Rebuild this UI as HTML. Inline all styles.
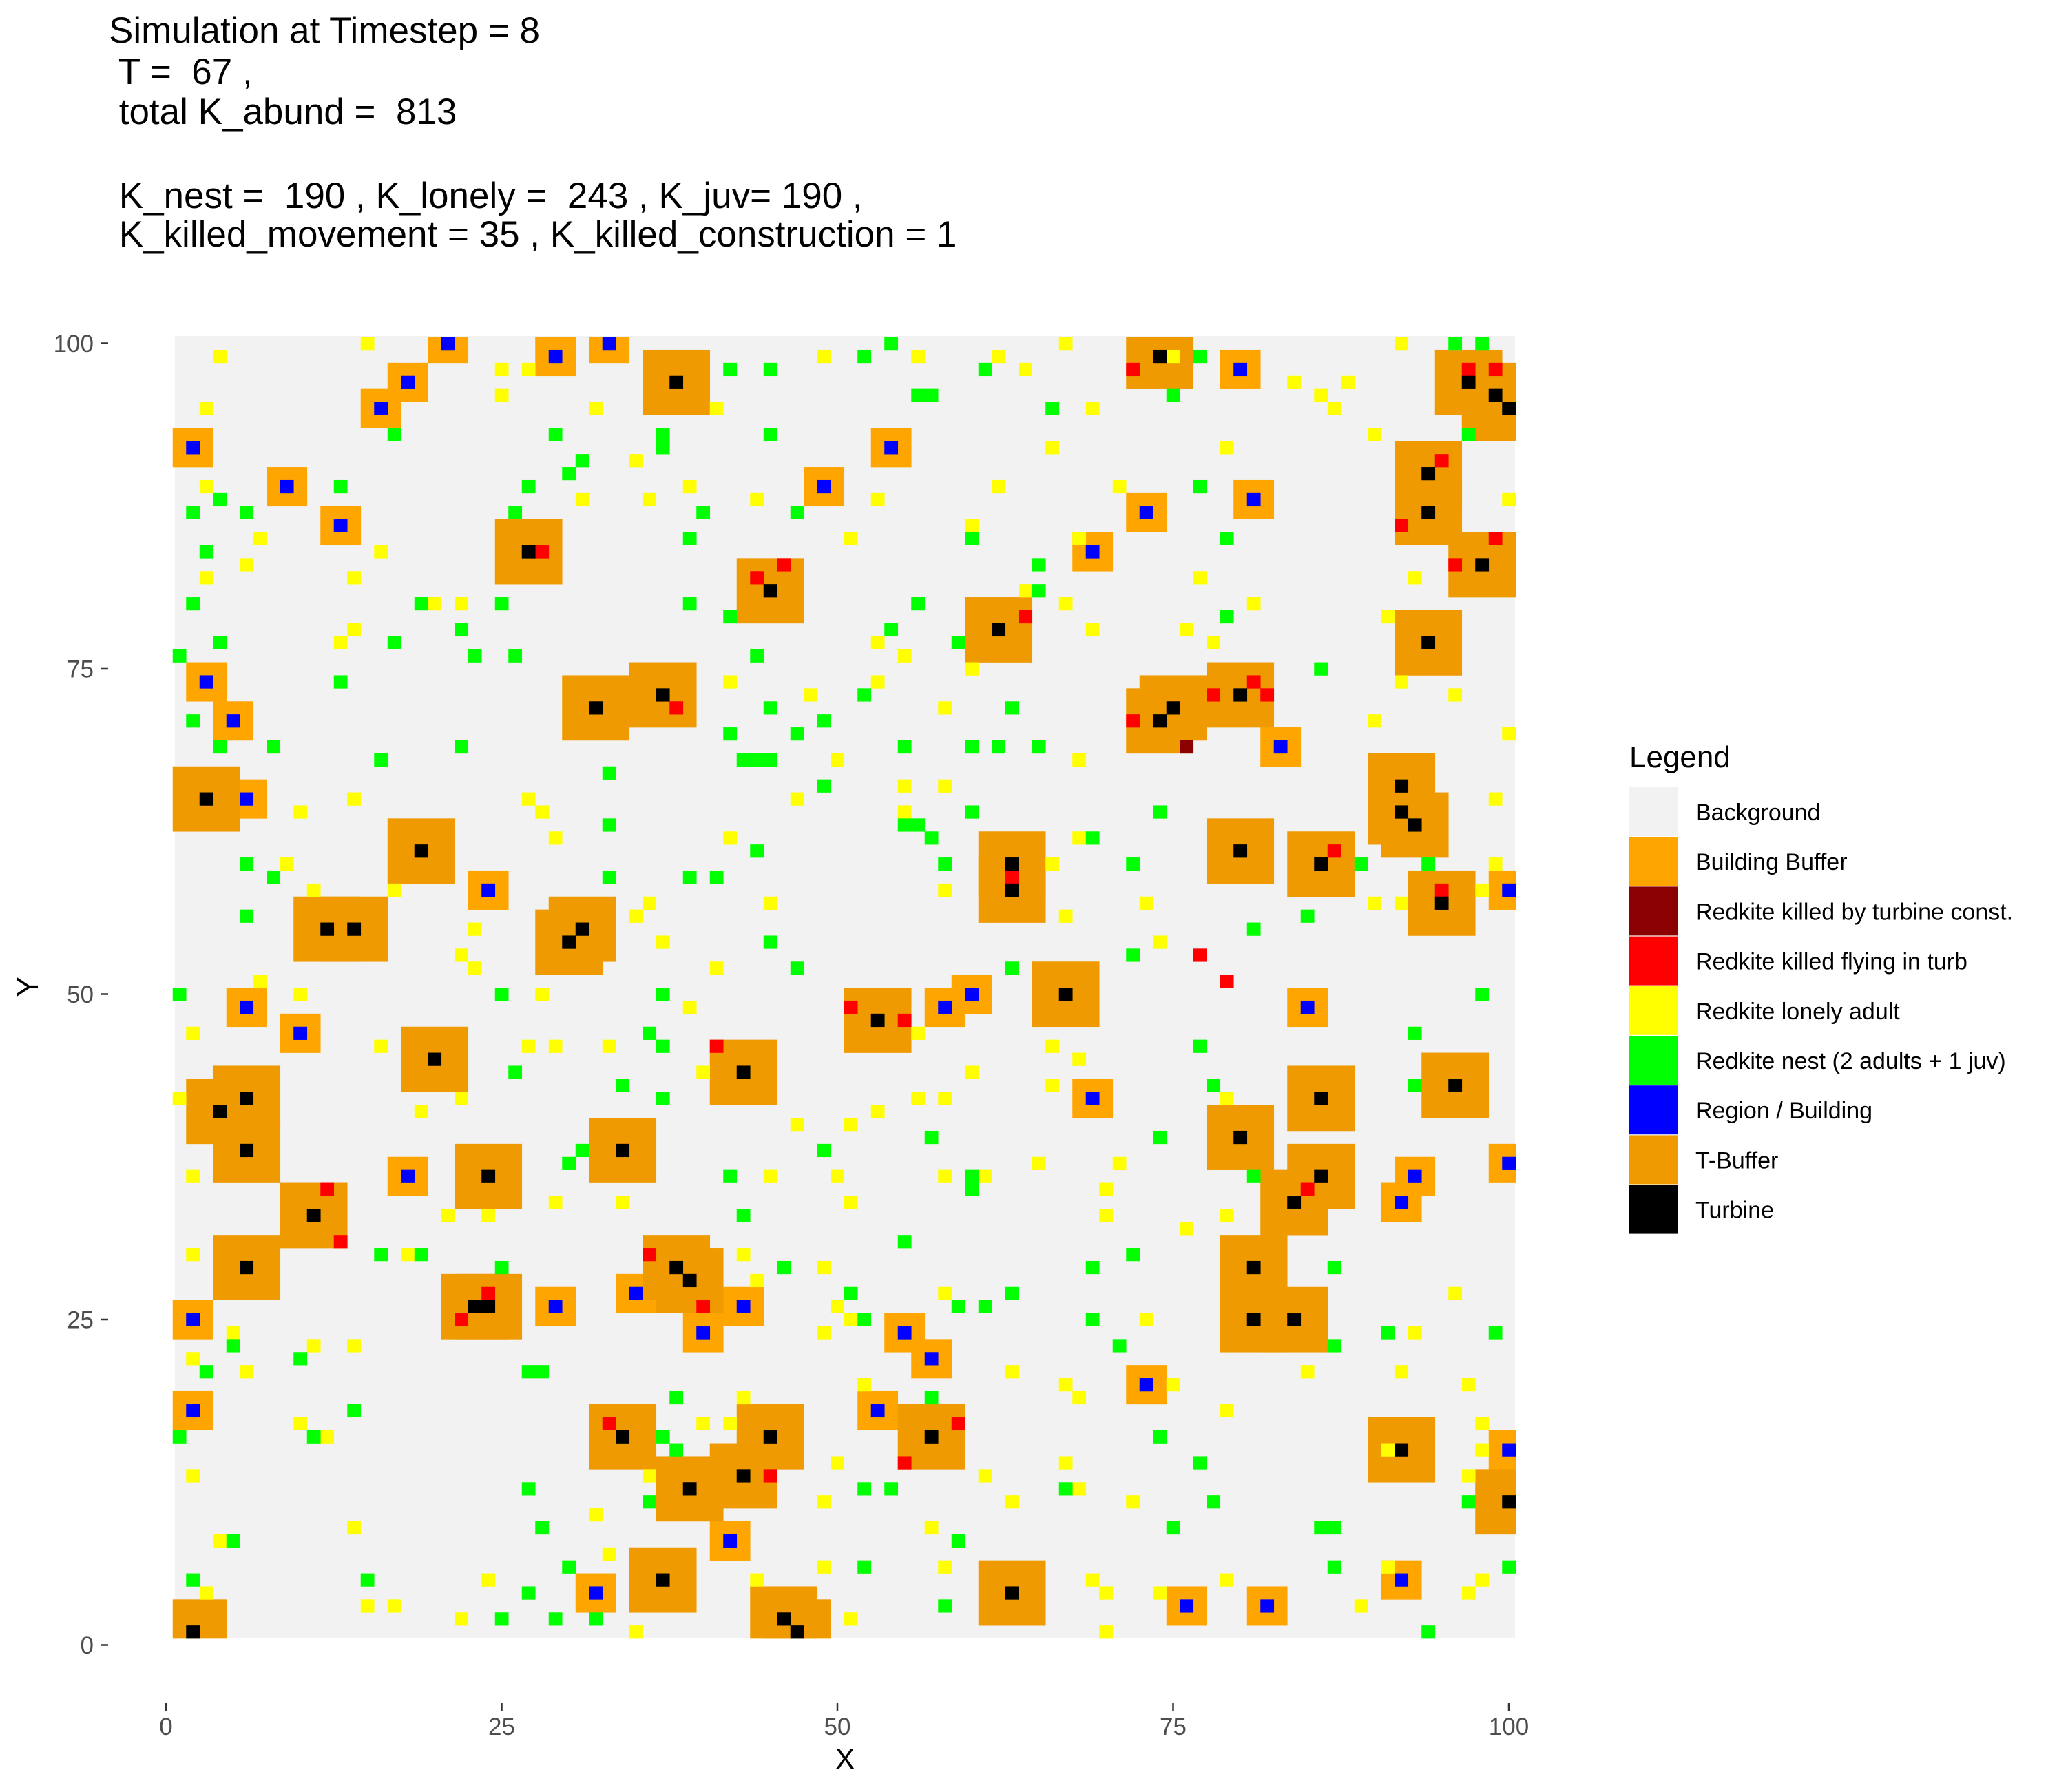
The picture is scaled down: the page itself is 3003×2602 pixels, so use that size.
<!DOCTYPE html>
<html><head><meta charset="utf-8">
<style>
html,body{margin:0;padding:0;background:#fff;}
svg{display:block;font-family:"Liberation Sans",Arial,sans-serif;}
#title text{white-space:pre;}
</style></head>
<body>
<svg id="chart" width="3003" height="2602" viewBox="0 0 3003 2602" xmlns="http://www.w3.org/2000/svg">
<rect width="3003" height="2602" fill="#ffffff"/>
<g id="title" font-size="53" fill="#000" xml:space="preserve">
<text x="158" y="62">Simulation at Timestep = 8</text>
<text x="158" y="122"> T =  67 ,</text>
<text x="158" y="180"> total K_abund =  813</text>
<text x="158" y="302"> K_nest =  190 , K_lonely =  243 , K_juv= 190 ,</text>
<text x="158" y="358"> K_killed_movement = 35 , K_killed_construction = 1</text>
</g>
<rect x="254" y="488" width="1946" height="1891" fill="#f2f2f2"/>
<g id="cells"></g>
<g id="axes"></g>
<text x="1227" y="2569" font-size="44" text-anchor="middle" fill="#000">X</text>
<text transform="translate(55,1433) rotate(-90)" font-size="44" text-anchor="middle" fill="#000">Y</text>
<g id="legend">
<text x="2366" y="1114" font-size="44" fill="#000">Legend</text>
</g>
</svg>
<script>
const turbineX=[38,74,97,99,100,94,94,98,27,45,62,94,32,37,74,75,80,3,92,92,93,19,63,63,80,86,12,14,31,30,95,67,53,20,43,6,4,86,96,80,6,34,24,86,84,11,6,38,39,81,23,24,81,84,34,45,57,92,39,43,100,37,63,2,46,47];
const turbineY=[97,99,97,96,95,90,87,83,84,81,78,77,72,73,71,72,73,65,66,64,63,61,60,58,61,60,55,55,55,54,57,50,48,45,44,42,41,42,43,39,38,38,36,36,34,33,29,29,28,29,26,26,25,25,16,16,16,15,12,13,11,5,4,1,2,1];
const buildingX=[21,29,33,18,16,2,54,80,9,49,13,81,73,69,3,5,83,6,24,100,6,10,60,58,85,69,18,93,92,100,2,29,35,43,40,55,57,73,2,53,100,42,92,32,76,82];
const buildingY=[100,99,100,97,95,92,92,98,89,89,86,88,87,84,74,71,69,65,58,58,49,47,50,49,49,42,36,36,34,37,25,26,27,26,24,24,22,20,18,18,15,8,5,4,3,3];
const nestX=[17,37,37,42,45,52,54,56,57,61,66,75,77,96,98,97,45,29,31,30,27,26,40,39,47,2,4,6,3,13,2,19,25,39,42,56,59,65,65,60,77,79,79,1,4,13,17,22,23,26,44,54,52,45,42,47,49,43,44,45,55,60,62,65,63,69,74,2,4,8,22,16,33,6,8,6,33,33,39,41,44,49,55,56,57,58,60,72,89,94,81,85,86,72,45,47,63,1,25,37,36,37,26,34,37,49,30,31,42,57,60,60,74,78,77,93,98,93,81,87,55,43,16,19,25,46,51,52,59,61,63,69,72,69,71,87,91,99,5,10,3,27,28,14,11,1,38,37,38,57,52,54,67,74,77,78,75,86,87,87,97,100,94,59,58,52,30,27,29,25,32,15,2,5,28,27,36];
const nestY=[93,93,92,98,98,99,100,96,96,98,95,96,99,100,100,93,93,93,91,90,89,87,87,85,87,87,88,87,84,89,80,80,80,80,79,80,77,81,83,85,89,85,79,76,77,74,77,78,76,76,76,78,73,72,70,70,71,68,68,68,69,69,69,69,72,62,64,71,69,69,69,68,67,60,59,56,63,59,59,59,61,66,63,63,62,60,64,60,60,60,55,56,75,53,54,52,52,50,50,50,47,46,44,43,42,38,37,38,36,39,36,35,39,43,46,47,50,43,36,29,31,33,30,30,29,29,27,25,26,26,27,29,30,25,23,23,24,24,23,22,21,21,21,18,16,16,19,16,15,19,12,12,12,16,14,11,9,9,9,6,11,6,1,8,3,6,6,4,2,2,2,5,5,8,9,12,11];
const lonelyX=[15,4,3,25,27,25,32,41,49,56,62,64,67,69,75,84,86,87,88,90,92,3,3,7,6,14,16,14,13,20,22,35,36,39,31,44,51,53,62,60,66,68,71,79,77,81,91,93,100,92,96,100,90,99,99,98,92,90,78,76,69,67,60,64,58,53,55,53,48,42,50,47,55,58,55,58,66,68,68,67,73,74,14,10,9,11,17,27,28,29,36,35,37,42,45,23,22,23,28,10,7,2,16,27,29,33,39,41,40,47,51,53,56,58,60,66,68,66,56,1,2,19,22,21,24,29,34,45,50,51,58,61,65,71,70,70,76,79,79,2,18,43,44,49,58,50,51,49,73,96,93,92,97,98,98,97,85,91,79,75,67,68,63,52,43,40,42,2,5,6,11,14,10,12,2,14,4,3,15,17,22,24,32,36,33,35,44,49,50,49,51,58,57,61,63,67,68,72,69,70,70,74,79,89,91,97,98];
const lonelyY=[100,99,95,98,98,96,95,95,99,99,99,98,100,95,99,97,96,95,97,93,100,89,82,85,83,82,84,78,77,80,80,91,88,89,88,88,85,88,89,86,92,85,89,92,82,80,79,82,88,74,73,70,71,65,60,58,57,57,77,78,78,80,75,81,72,74,76,77,73,74,68,65,66,66,64,58,60,62,68,56,57,54,65,64,60,58,58,65,64,62,57,56,54,62,57,55,53,52,50,50,51,47,46,46,46,46,49,52,44,40,40,41,42,42,44,43,45,46,47,42,36,41,42,33,33,34,34,36,36,34,36,36,37,37,35,33,32,33,42,30,30,30,28,29,27,26,25,24,25,27,24,21,20,17,15,13,21,15,18,20,20,19,21,20,19,17,17,22,24,21,23,23,17,16,13,9,8,4,3,3,2,5,10,13,7,1,5,11,14,6,2,6,9,13,11,14,12,11,5,1,4,4,5,3,6,4,5];
const killedFlyX=[72,97,99,95,92,99,96,28,44,46,64,38,72,78,81,82,87,63,95,77,79,51,55,41,12,85,13,36,24,22,40,33,59,45,55];
const killedFlyY=[98,98,98,91,86,85,83,84,82,83,79,72,71,73,74,73,61,59,58,53,51,49,48,46,35,35,31,30,27,25,26,17,17,13,14];
const killedConstX=[76];
const killedConstY=[69];
const legendLabels=["Background","Building Buffer","Redkite killed by turbine const.","Redkite killed flying in turb","Redkite lonely adult","Redkite nest (2 adults + 1 juv)","Region / Building","T-Buffer","Turbine"];
const legendColors=["#f2f2f2","#ffa500","#8b0000","#ff0000","#ffff00","#00ff00","#0000ff","#ee9a00","#000000"];
const xTicks=[0,25,50,75,100];
const yTicks=[0,25,50,75,100];

const NS="http://www.w3.org/2000/svg";
const X0=241, CW=19.5, Y0=2388.5, CH=18.9;
function sx(v){return X0+v*CW;}
function sy(v){return Y0-v*CH;}
const cells=document.getElementById('cells');
function cellRect(x0,x1,y0,y1,color,name){
  x0=Math.max(x0,1);x1=Math.min(x1,100);y0=Math.max(y0,1);y1=Math.min(y1,100);
  if(x1<x0||y1<y0)return;
  const r=document.createElementNS(NS,'rect');
  r.setAttribute('x',sx(x0-0.5));r.setAttribute('y',sy(y1+0.5));
  r.setAttribute('width',(x1-x0+1)*CW+0.3);r.setAttribute('height',(y1-y0+1)*CH+0.3);
  r.setAttribute('fill',color);
  
  
  cells.appendChild(r);
}
for(let i=0;i<buildingX.length;i++)cellRect(buildingX[i]-1,buildingX[i]+1,buildingY[i]-1,buildingY[i]+1,'#ffa500','building-buffer');
for(let i=0;i<turbineX.length;i++)cellRect(turbineX[i]-2,turbineX[i]+2,turbineY[i]-2,turbineY[i]+2,'#ee9a00','turbine-buffer');
for(let i=0;i<lonelyX.length;i++)cellRect(lonelyX[i],lonelyX[i],lonelyY[i],lonelyY[i],'#ffff00','lonely-adult-cell');
for(let i=0;i<nestX.length;i++)cellRect(nestX[i],nestX[i],nestY[i],nestY[i],'#00ff00','nest-cell');
for(let i=0;i<killedFlyX.length;i++)cellRect(killedFlyX[i],killedFlyX[i],killedFlyY[i],killedFlyY[i],'#ff0000','killed-flying-cell');
for(let i=0;i<killedConstX.length;i++)cellRect(killedConstX[i],killedConstX[i],killedConstY[i],killedConstY[i],'#8b0000','killed-construction-cell');
for(let i=0;i<buildingX.length;i++)cellRect(buildingX[i],buildingX[i],buildingY[i],buildingY[i],'#0000ff','building-cell');
for(let i=0;i<turbineX.length;i++)cellRect(turbineX[i],turbineX[i],turbineY[i],turbineY[i],'#000000','turbine-cell');

const axes=document.getElementById('axes');
xTicks.forEach(t=>{
  const l=document.createElementNS(NS,'line');
  l.setAttribute('x1',sx(t));l.setAttribute('x2',sx(t));l.setAttribute('y1',2473);l.setAttribute('y2',2484);
  l.setAttribute('stroke','#333');l.setAttribute('stroke-width','2.5');
  
  
  axes.appendChild(l);
  const tx=document.createElementNS(NS,'text');
  tx.setAttribute('x',sx(t));tx.setAttribute('y',2519);tx.setAttribute('font-size','35');
  tx.setAttribute('text-anchor','middle');tx.setAttribute('fill','#4d4d4d');
  
  
  tx.textContent=t;axes.appendChild(tx);
});
yTicks.forEach(t=>{
  const l=document.createElementNS(NS,'line');
  l.setAttribute('x1',146);l.setAttribute('x2',157);l.setAttribute('y1',sy(t));l.setAttribute('y2',sy(t));
  l.setAttribute('stroke','#333');l.setAttribute('stroke-width','2.5');
  
  
  axes.appendChild(l);
  const tx=document.createElementNS(NS,'text');
  tx.setAttribute('x',136);tx.setAttribute('y',sy(t)+12.5);tx.setAttribute('font-size','35');
  tx.setAttribute('text-anchor','end');tx.setAttribute('fill','#4d4d4d');
  
  
  tx.textContent=t;axes.appendChild(tx);
});

const legend=document.getElementById('legend');
legendLabels.forEach((lab,i)=>{
  const y=1143+i*72.2;
  const r=document.createElementNS(NS,'rect');
  r.setAttribute('x',2366);r.setAttribute('y',y);r.setAttribute('width',71);r.setAttribute('height',71);
  r.setAttribute('fill',legendColors[i]);
  
  
  legend.appendChild(r);
  const tx=document.createElementNS(NS,'text');
  tx.setAttribute('x',2462);tx.setAttribute('y',y+48);tx.setAttribute('font-size','34');tx.setAttribute('fill','#000');
  
  
  tx.textContent=lab;legend.appendChild(tx);
});
</script>
</body></html>
